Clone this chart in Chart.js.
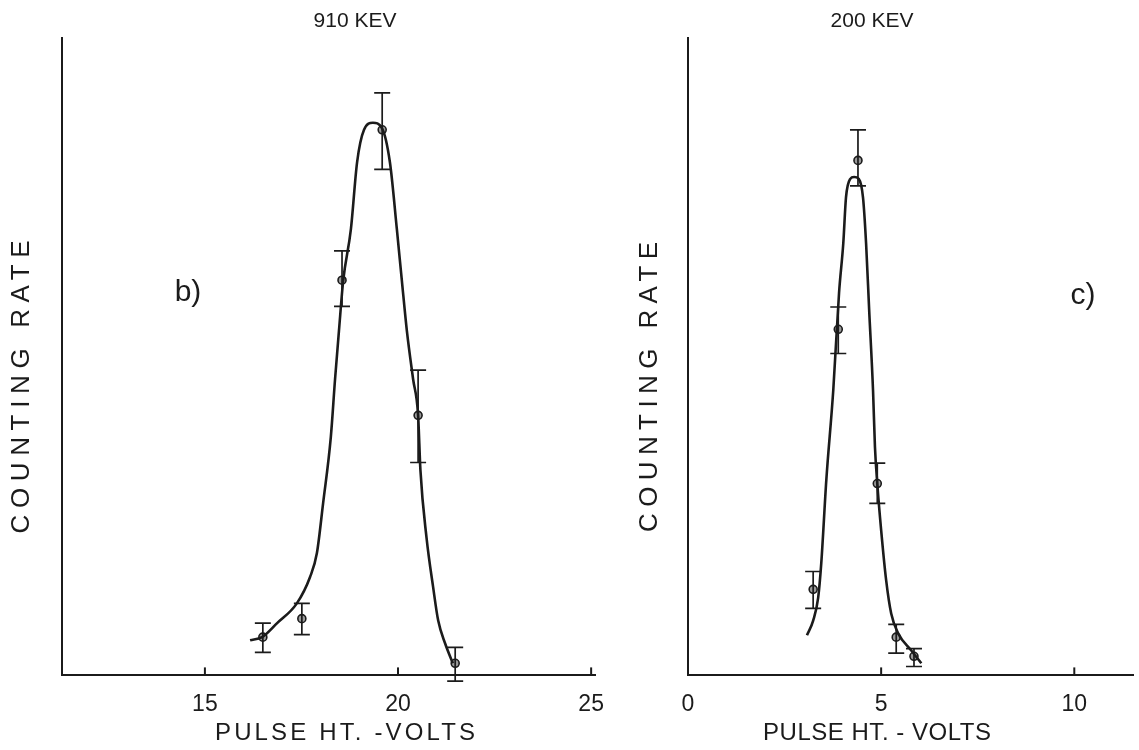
<!DOCTYPE html>
<html lang="en">
  <head>
    <meta charset="UTF-8" />
    <title>Pulse Height Distributions</title>
    <style>
      body {
        margin: 0;
        padding: 0;
        background-color: #fff;
        width: 1139px;
        height: 750px;
        overflow: hidden;
      }

      .panel {
        position: absolute;
        top: 0;
      }

      #panel910 {
        left: 0;
      }

      #panel200 {
        left: 620px;
      }
    </style>
  </head>
  <body>
    <canvas id="panel910" class="panel" width="625" height="750"></canvas>
    <canvas id="panel200" class="panel" width="519" height="750"></canvas>

    <script src="https://cdn.jsdelivr.net/npm/chart.js"></script>
    <script>
      // 910 keV line, panel b)
      const pulse910 = [16.5, 17.51, 18.55, 19.59, 20.52, 21.48];
      const rate910 = [6.0, 8.9, 62.0, 85.6, 40.8, 1.9];
      const rate910Hi = [8.2, 11.3, 66.6, 91.4, 47.9, 4.4];
      const rate910Lo = [3.6, 6.4, 57.9, 79.4, 33.4, -0.9];
      const curvePulse910 = [16.17, 16.48, 16.87, 17.38, 17.72, 17.9, 18.06, 18.26, 18.37, 18.47, 18.58, 18.78, 18.94, 19.12, 19.35, 19.58, 19.79, 19.97, 20.1, 20.23, 20.39, 20.52, 20.58, 20.74, 20.91, 21.04, 21.22, 21.42];
      const curveRate910 = [5.5, 6.0, 8.2, 11.3, 15.4, 19.2, 27.0, 37.4, 46.5, 54.0, 61.9, 70.0, 80.5, 85.6, 86.7, 85.9, 80.5, 70.0, 61.9, 54.0, 46.5, 40.8, 32.2, 21.5, 13.8, 8.6, 5.0, 1.9];
      const ticks910 = [15, 20, 25];

      // 200 keV line, panel c)
      const pulse200 = [3.24, 3.89, 4.4, 4.9, 5.39, 5.85];
      const rate200 = [13.5, 54.3, 80.8, 30.1, 6.0, 3.0];
      const rate200Hi = [16.3, 57.8, 85.6, 33.3, 8.0, 4.2];
      const rate200Lo = [10.5, 50.5, 76.8, 27.0, 3.5, 1.4];
      const curvePulse200 = [3.08, 3.24, 3.37, 3.45, 3.58, 3.76, 3.91, 4.02, 4.09, 4.2, 4.3, 4.42, 4.53, 4.61, 4.69, 4.79, 4.84, 4.9, 5.0, 5.13, 5.26, 5.44, 5.78, 6.04];
      const curveRate200 = [6.3, 8.6, 12.2, 17.6, 30.6, 44.7, 60.0, 67.8, 75.0, 77.9, 78.2, 77.9, 75.0, 67.8, 57.3, 44.7, 35.8, 30.1, 22.8, 14.9, 9.7, 6.6, 3.9, 1.9];
      const ticks200 = [0, 5, 10];

      const ink = "#1b1b1b";
      const letterFont = '"Liberation Sans", Arial, sans-serif';

      // draws text stretched to a given width by opening up the letter spacing
      function spacedText(ctx, text, cx, cy, span, size, angle) {
        ctx.save();
        ctx.font = size + "px " + letterFont;
        ctx.letterSpacing = "0px";
        const plain = ctx.measureText(text).width;
        const width = span || plain;
        const gap = text.length > 1 ? (width - plain) / (text.length - 1) : 0;
        ctx.letterSpacing = gap + "px";
        ctx.translate(cx, cy);
        ctx.rotate(angle || 0);
        ctx.textAlign = "left";
        ctx.textBaseline = "middle";
        ctx.fillStyle = ink;
        ctx.fillText(text, -width / 2, 0);
        ctx.restore();
      }

      function decorPlugin(p) {
        return {
          id: "decor",
          afterDatasetsDraw(chart) {
            const { ctx, chartArea, scales } = chart;
            const x = scales.x;
            const y = scales.y;
            ctx.save();
            ctx.strokeStyle = ink;
            ctx.lineWidth = 1.7;
            p.pulse.forEach((v, i) => {
              const px = x.getPixelForValue(v);
              const top = y.getPixelForValue(p.hi[i]);
              const bottom = y.getPixelForValue(p.lo[i]);
              ctx.beginPath();
              ctx.moveTo(px, top);
              ctx.lineTo(px, bottom);
              ctx.moveTo(px - 8, top);
              ctx.lineTo(px + 8, top);
              ctx.moveTo(px - 8, bottom);
              ctx.lineTo(px + 8, bottom);
              ctx.stroke();
            });
            // small tick marks standing up from the axis
            ctx.lineWidth = 2;
            p.ticks.forEach((t) => {
              const px = x.getPixelForValue(t);
              ctx.beginPath();
              ctx.moveTo(px, chartArea.bottom);
              ctx.lineTo(px, chartArea.bottom - 8);
              ctx.stroke();
            });
            ctx.restore();
          },
          afterDraw(chart) {
            const { ctx, chartArea } = chart;
            const l = chartArea.left;
            const t = chartArea.top;
            const b = chartArea.bottom;
            spacedText(ctx, p.title, l + p.titleX, t - 17, null, 21);
            spacedText(ctx, "COUNTING RATE", l + p.yTitleX, t + 349, p.yTitleSpan, 26, -Math.PI / 2);
            spacedText(ctx, p.xTitle, l + p.xTitleX, b + 58, p.xTitleSpan, 24);
            spacedText(ctx, p.tag, l + p.tagX, t + p.tagY, null, 30);
          },
        };
      }

      function makePanel(id, p) {
        const ctx = document.getElementById(id).getContext("2d");
        new Chart(ctx, {
          type: "line",
          data: {
            datasets: [
              {
                data: p.curvePulse.map((v, i) => ({ x: v, y: p.curveRate[i] })),
                borderColor: ink,
                borderWidth: 2.6,
                pointRadius: 0,
                cubicInterpolationMode: "monotone",
                fill: false,
              },
              {
                data: p.pulse.map((v, i) => ({ x: v, y: p.rate[i] })),
                showLine: false,
                pointRadius: 4,
                pointBorderWidth: 1.6,
                pointBorderColor: ink,
                pointBackgroundColor: "#9a9a9a",
              },
            ],
          },
          options: {
            responsive: false,
            animation: false,
            layout: {
              padding: p.padding,
            },
            scales: {
              x: {
                type: "linear",
                min: p.xMin,
                max: p.xMax,
                afterBuildTicks: (scale) => {
                  scale.ticks = p.ticks.map((value) => ({ value }));
                },
                grid: { display: false, drawTicks: false },
                border: { display: true, color: ink, width: 2 },
                ticks: {
                  color: ink,
                  padding: 15,
                  maxRotation: 0,
                  autoSkip: false,
                  font: { family: letterFont, size: 23 },
                },
              },
              y: {
                min: 0,
                max: 100,
                grid: { display: false, drawTicks: false },
                border: { display: true, color: ink, width: 2 },
                ticks: { display: false },
              },
            },
            plugins: {
              legend: { display: false },
              tooltip: { enabled: false },
            },
          },
          plugins: [decorPlugin(p)],
        });
      }

      document.addEventListener("DOMContentLoaded", function () {
        makePanel("panel910", {
          pulse: pulse910,
          rate: rate910,
          hi: rate910Hi,
          lo: rate910Lo,
          curvePulse: curvePulse910,
          curveRate: curveRate910,
          ticks: ticks910,
          xMin: 11.3,
          xMax: 25.1,
          padding: { left: 62, right: 30, top: 38, bottom: 17 },
          title: "910 KEV",
          titleX: 293,
          yTitleX: -40,
          yTitleSpan: 293,
          xTitle: "PULSE HT. -VOLTS",
          xTitleX: 283,
          xTitleSpan: 260,
          tag: "b)",
          tagX: 126,
          tagY: 255,
        });

        makePanel("panel200", {
          pulse: pulse200,
          rate: rate200,
          hi: rate200Hi,
          lo: rate200Lo,
          curvePulse: curvePulse200,
          curveRate: curveRate200,
          ticks: ticks200,
          xMin: 0,
          xMax: 11.53,
          padding: { left: 68, right: 0, top: 38, bottom: 17 },
          title: "200 KEV",
          titleX: 184,
          yTitleX: -38,
          yTitleSpan: 290,
          xTitle: "PULSE HT. - VOLTS",
          xTitleX: 189,
          xTitleSpan: 228,
          tag: "c)",
          tagX: 395,
          tagY: 258,
        });
      });
    </script>
  </body>
</html>
